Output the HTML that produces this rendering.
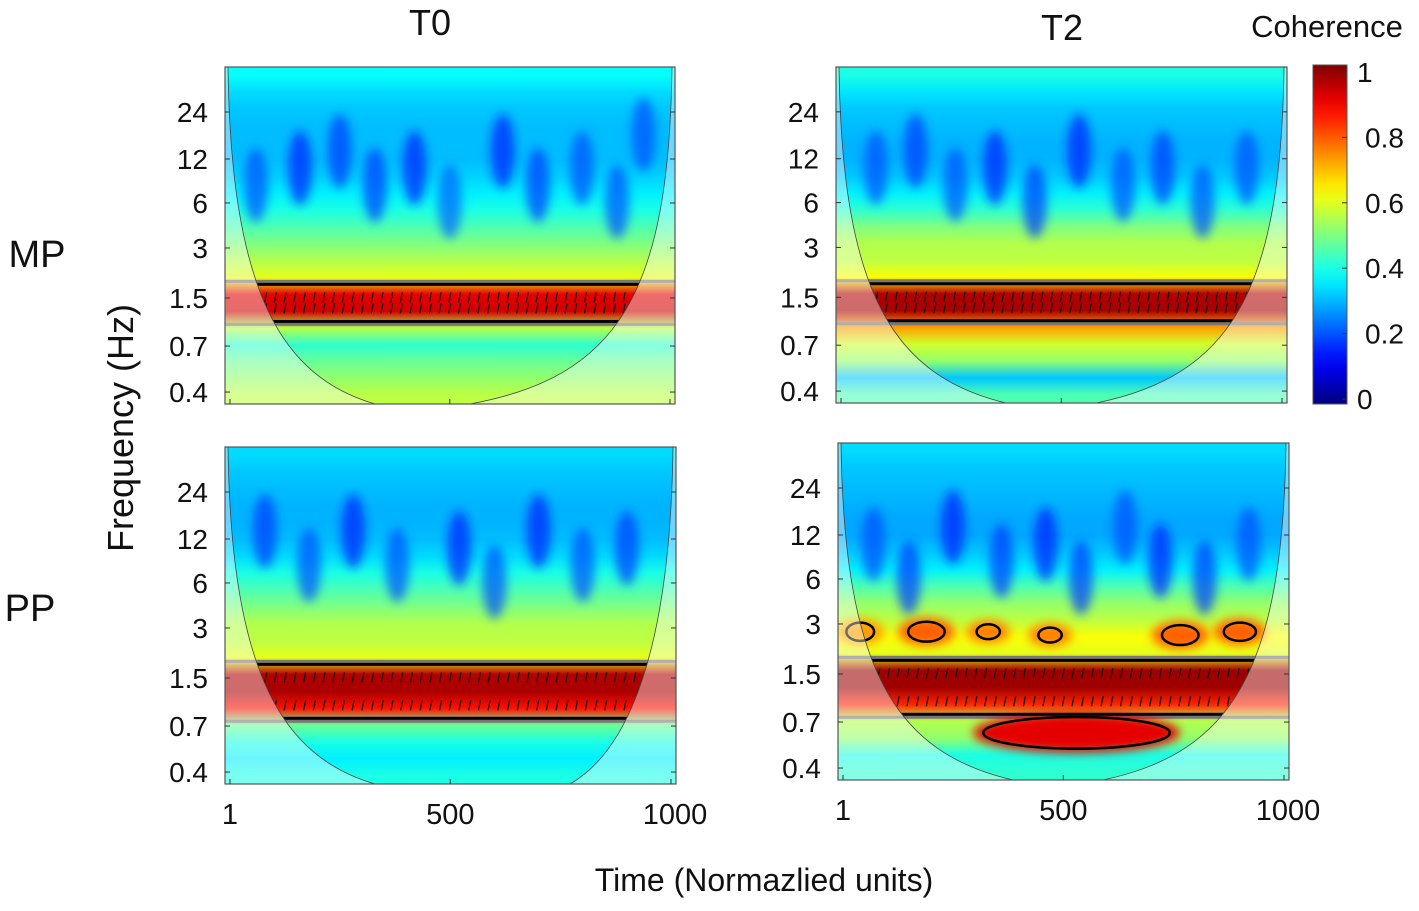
<!DOCTYPE html>
<html><head><meta charset="utf-8"><style>
body{margin:0;background:#fff;}
svg text{font-family:"Liberation Sans",sans-serif;fill:#111;}
</style></head><body>
<svg id="chart" width="1419" height="906" xmlns="http://www.w3.org/2000/svg">
<defs>
<filter id="blur" x="-50%" y="-50%" width="200%" height="200%"><feGaussianBlur stdDeviation="5"/></filter>
</defs>
<g id="root"></g>
</svg>
<script>
// coherence per frequency row (top = high freq), 20 rows per panel
const rowsMPT0=[0.38,0.34,0.32,0.31,0.31,0.31,0.33,0.36,0.40,0.45,0.50,0.55,0.60,0.90,0.92,0.55,0.42,0.48,0.52,0.56];
const rowsMPT2=[0.40,0.35,0.32,0.31,0.30,0.30,0.32,0.36,0.42,0.50,0.55,0.56,0.62,0.95,0.96,0.72,0.58,0.52,0.32,0.45];
const rowsPPT0=[0.34,0.32,0.31,0.30,0.30,0.31,0.34,0.40,0.45,0.50,0.55,0.56,0.60,0.95,0.96,0.86,0.48,0.40,0.36,0.40];
const rowsPPT2=[0.34,0.32,0.31,0.30,0.29,0.29,0.32,0.36,0.45,0.52,0.56,0.62,0.60,0.97,0.97,0.84,0.55,0.52,0.40,0.42];
// low-coherence patches: [time, row, coherence]
const patchesMPT0=[[60,7,0.2],[160,6,0.15],[250,5,0.18],[330,7,0.18],[420,6,0.15],[500,8,0.22],[620,5,0.15],[700,7,0.18],[800,6,0.2],[880,8,0.2],[940,4,0.2]];
const patchesMPT2=[[80,6,0.2],[170,5,0.18],[260,7,0.2],[350,6,0.15],[440,8,0.18],[540,5,0.15],[640,7,0.2],[730,6,0.18],[820,8,0.2],[920,6,0.2]];
const patchesPPT0=[[80,5,0.18],[180,7,0.2],[280,5,0.15],[380,7,0.2],[520,6,0.15],[600,8,0.2],[700,5,0.15],[800,7,0.2],[900,6,0.18]];
const patchesPPT2=[[70,6,0.2],[150,8,0.18],[250,5,0.15],[360,7,0.18],[460,6,0.15],[540,8,0.18],[640,5,0.2],[720,7,0.15],[820,8,0.18],[920,6,0.2]];
// blobs: [time (1-1000), row index, coherence, half-width in time units, half-height in rows]
const blobsPPT2=[[40,10.7,0.72,45,0.6],[190,10.7,0.78,55,0.65],[330,10.7,0.75,40,0.5],[470,10.9,0.75,40,0.5],[765,10.9,0.78,55,0.65],[900,10.7,0.78,50,0.6],[530,16.7,0.9,225,1.0]];
const yTickLabels=["24","12","6","3","1.5","0.7","0.4"];
const yTickRows=[2.67,5.46,8.07,10.74,13.71,16.56,19.29]; // row-index positions
const xTickLabels=["1","500","1000"];
const xTickValues=[1,500,1000];
const cbTickLabels=["1","0.8","0.6","0.4","0.2","0"];
const cbTickValues=[1,0.8,0.6,0.4,0.2,0];

const NS="http://www.w3.org/2000/svg";
const root=document.getElementById('root');
const defs=document.querySelector('defs');
function mk(tag,attrs,parent){const e=document.createElementNS(NS,tag);for(const k in attrs)e.setAttribute(k,attrs[k]);(parent||root).appendChild(e);return e;}
function jet(v){v=Math.max(0,Math.min(1,v));
  const r=Math.max(0,Math.min(1,1.5-Math.abs(4*v-3)));
  const g=Math.max(0,Math.min(1,1.5-Math.abs(4*v-2)));
  const b=Math.max(0,Math.min(1,1.5-Math.abs(4*v-1)));
  return `rgb(${Math.round(r*255)},${Math.round(g*255)},${Math.round(b*255)})`;}

const panels=[
 {id:'mp-t0',x:225,y:67,w:450,h:337,rows:rowsMPT0,patches:patchesMPT0,blobs:[],xlab:false,cb:[150,245]},
 {id:'mp-t2',x:836,y:67,w:451,h:336,rows:rowsMPT2,patches:patchesMPT2,blobs:[],xlab:false,cb:[170,260]},
 {id:'pp-t0',x:225,y:447,w:451,h:337,rows:rowsPPT0,patches:patchesPPT0,blobs:[],xlab:true,cb:[150,345]},
 {id:'pp-t2',x:838,y:443,w:451,h:337,rows:rowsPPT2,patches:patchesPPT2,blobs:blobsPPT2,xlab:true,cb:[175,265]}
];

panels.forEach((p,pi)=>{
  const n=p.rows.length, rh=p.h/n;
  const xS=t=>p.x+5+(t-1)/999*(p.w-10);
  const yR=r=>p.y+r*rh;
  const g=mk('g',{});
  
  
  const gid='grad'+pi;
  const lg=mk('linearGradient',{id:gid,x1:0,y1:0,x2:0,y2:1},defs);
  p.rows.forEach((v,i)=>mk('stop',{offset:((i+0.5)/n).toFixed(4),'stop-color':jet(v)},lg));
  const cid='clip'+pi;
  const cp=mk('clipPath',{id:cid},defs);
  mk('rect',{x:p.x,y:p.y,width:p.w,height:p.h},cp);
  const hm=mk('rect',{x:p.x,y:p.y,width:p.w,height:p.h,fill:`url(#${gid})`},g);
  
  
  const bg=mk('g',{'clip-path':`url(#${cid})`},g);
  p.patches.forEach(q=>{
    const e=mk('ellipse',{cx:xS(q[0]),cy:yR(q[1]),rx:12,ry:rh*2.2,fill:jet(q[2]),'fill-opacity':0.7,filter:'url(#blur)'},bg);
    
    
  });
  const L=p.x,R=p.x+p.w,B=p.y+p.h,c0=p.x+p.cb[0],c1=p.x+p.cb[1];
  const cone=`M${L+3},${p.y} C${L+6},${p.y+p.h*0.68} ${L+p.w*0.13},${p.y+p.h*0.92} ${c0},${B} L${c1},${B} C${R-p.w*0.13},${p.y+p.h*0.92} ${R-6},${p.y+p.h*0.68} ${R-3},${p.y} Z`;
  const ccid='cone'+pi;
  const ccp=mk('clipPath',{id:ccid},defs);
  mk('path',{d:cone},ccp);
  let spans=[],s=-1;
  p.rows.forEach((v,i)=>{if(v>=0.8&&s<0)s=i;if(v<0.8&&s>=0){spans.push([s,i]);s=-1;}});
  if(s>=0)spans.push([s,n]);
  spans.forEach(sp=>{
    const y0=yR(sp[0]-0.1),y1=yR(sp[1]+0.1);
    mk('line',{x1:L,x2:R,y1:y0-3,y2:y0-3,stroke:'#777','stroke-width':3},bg);
    mk('line',{x1:L,x2:R,y1:y1+3,y2:y1+3,stroke:'#777','stroke-width':3},bg);
    const cg=mk('g',{'clip-path':`url(#${ccid})`},g);
    const ct=mk('rect',{x:L-5,y:y0,width:p.w+10,height:y1-y0,fill:'none',stroke:'#000','stroke-width':3},cg);
    
    
    for(let t=60;t<1000;t+=22){
      mk('line',{x1:xS(t)+1,y1:y0+8,x2:xS(t)-1,y2:y0+18,stroke:'#111','stroke-width':1.3},cg);
      mk('line',{x1:xS(t)+1,y1:y1-18,x2:xS(t)-1,y2:y1-8,stroke:'#111','stroke-width':1.3},cg);
    }
  });
  p.blobs.forEach(b=>{
    const cx=xS(b[0]),cy=yR(b[1]+0.5),rx=b[3]/999*(p.w-10),ry=b[4]*rh;
    const e=mk('ellipse',{cx,cy,rx:rx+4,ry:ry+3,fill:jet(b[2]),filter:'url(#blur)'},bg);
    
    
    mk('ellipse',{cx,cy,rx:Math.max(rx-6,8),ry:ry-1,fill:'none',stroke:'#000','stroke-width':2.5},bg);
  });
  const out=mk('path',{d:`M${L},${p.y} L${L+3},${p.y} C${L+6},${p.y+p.h*0.68} ${L+p.w*0.13},${p.y+p.h*0.92} ${c0},${B} L${c1},${B} C${R-p.w*0.13},${p.y+p.h*0.92} ${R-6},${p.y+p.h*0.68} ${R-3},${p.y} L${R},${p.y} L${R},${B} L${L},${B} Z`,fill:'#fff','fill-opacity':0.42},g);
  
  
  mk('path',{d:cone,fill:'none',stroke:'#444','stroke-width':0.8},g);
  mk('rect',{x:p.x,y:p.y,width:p.w,height:p.h,fill:'none',stroke:'#555','stroke-width':1.2},g);
  yTickLabels.forEach((lab,i)=>{
    const y=yR(yTickRows[i]);
    mk('line',{x1:L,x2:L+5,y1:y,y2:y,stroke:'#333'},g);
    mk('line',{x1:R-5,x2:R,y1:y,y2:y,stroke:'#333'},g);
    const t=mk('text',{x:L-17,y:y+10,'text-anchor':'end','font-size':28},g);
    t.textContent=lab;
    
    
  });
  xTickValues.forEach((v,i)=>{
    const x=xS(v);
    mk('line',{x1:x,x2:x,y1:B-5,y2:B,stroke:'#333'},g);
    if(p.xlab){
      const t=mk('text',{x:x+(i==0?0:(i==2?4:0)),y:B+40,'text-anchor':'middle','font-size':29},g);
      t.textContent=xTickLabels[i];
      
      
    }
  });
});

const cbx=1313,cby=65,cbw=34,cbh=339;
const cbg=mk('linearGradient',{id:'cbgrad',x1:0,y1:1,x2:0,y2:0},defs);
for(let i=0;i<=20;i++)mk('stop',{offset:i/20,'stop-color':jet(i/20)},cbg);
const cb=mk('rect',{x:cbx,y:cby,width:cbw,height:cbh,fill:'url(#cbgrad)',stroke:'#555'});


cbTickValues.forEach((v,i)=>{
  const y=cby+7+(1-v)*(cbh-12);
  mk('line',{x1:cbx+cbw-5,x2:cbx+cbw,y1:y,y2:y,stroke:'#333'});
  const t=mk('text',{x:(v==1||v==0)?cbx+44:cbx+52,y:y+10,'font-size':28});
  t.textContent=cbTickLabels[i];
  
  
});
function label(txt,x,y,size,name,anchor,rot){
  const t=mk('text',{x,y,'font-size':size,'text-anchor':anchor||'middle'});
  if(rot)t.setAttribute('transform',`rotate(-90 ${x} ${y})`);
  t.textContent=txt;
  
  
}
label('T0',430,35,36,'title-t0');
label('T2',1062,40,36,'title-t2');
label('Coherence',1327,37,31,'colorbar-title');
label('MP',37,267,38,'row-label-mp');
label('PP',30,621,38,'row-label-pp');
label('Frequency (Hz)',133,428,36,'y-axis-title','middle',true);
label('Time (Normazlied units)',764,891,32,'x-axis-title');
</script>
</body></html>
